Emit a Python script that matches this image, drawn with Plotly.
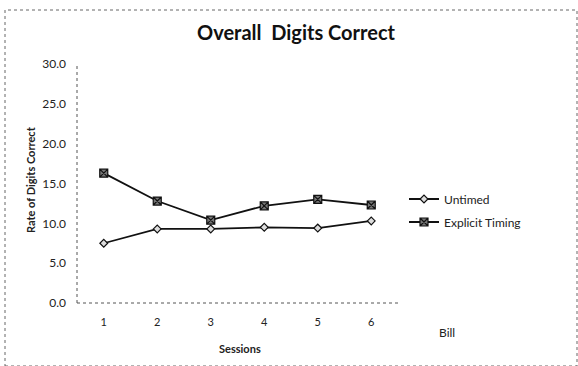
import plotly.graph_objects as go

sessions = ["1", "2", "3", "4", "5", "6"]
untimed = [7.5, 9.3, 9.3, 9.5, 9.4, 10.3]
explicit_timing = [16.3, 12.8, 10.4, 12.2, 13.0, 12.3]
y_ticks = [0, 5, 10, 15, 20, 25, 30]
y_tick_labels = ["0.0", "5.0", "10.0", "15.0", "20.0", "25.0", "30.0"]

FONT = "Lato, 'Open Sans', sans-serif"

fig = go.Figure()
fig.add_trace(go.Scatter(
    x=sessions, y=untimed, name="Untimed", mode="lines+markers", legend="legend",
    line=dict(color="#111111", width=1.8),
    marker=dict(symbol="diamond", size=6, color="#dddddd", line=dict(color="#111111", width=1.2)),
))
fig.add_trace(go.Scatter(
    x=sessions, y=explicit_timing, name="Explicit Timing", mode="lines+markers", legend="legend2",
    line=dict(color="#111111", width=1.8),
    marker=dict(symbol="square-x", size=8, color="#777777", line=dict(color="#111111", width=1.2)),
))

legend_common = dict(x=(404 - 77) / 321, xanchor="left", yanchor="middle",
                     font=dict(size=12, family=FONT, color="#222222"), bgcolor="rgba(0,0,0,0)",
                     itemwidth=30)

fig.update_layout(
    width=578, height=366,
    margin=dict(l=77, r=180, t=64, b=63, autoexpand=False),
    paper_bgcolor="white", plot_bgcolor="white",
    font=dict(family=FONT, color="#222222", size=11),
    title=dict(text="<b>Overall  Digits Correct</b>", x=296/578, xanchor="center",
               y=1 - 33/366, yanchor="middle", font=dict(size=20, family=FONT, color="#111111")),
    showlegend=True,
    legend=dict(y=(303 - 199) / 239, **legend_common),
    legend2=dict(y=(303 - 222) / 239, **legend_common),
    xaxis=dict(type="category", range=[-0.5, 5.5], showgrid=False, zeroline=False,
               showline=False, automargin=False,
               ticks="", tickfont=dict(size=11, family=FONT, color="#222222"), ticklabelstandoff=11),
    yaxis=dict(range=[0, 30], tickvals=y_ticks, ticktext=y_tick_labels, showgrid=False,
               zeroline=False, showline=False, automargin=False,
               ticks="", tickfont=dict(size=12, family=FONT, color="#222222"), ticklabelstandoff=10),
)

# dotted axis lines
fig.add_shape(type="line", xref="paper", yref="paper", x0=0, x1=1, y0=0, y1=0,
              line=dict(color="#555555", width=1, dash="dot"), layer="below")
fig.add_shape(type="line", xref="paper", yref="paper", x0=0, x1=0, y0=0, y1=1,
              line=dict(color="#555555", width=1, dash="dot"), layer="below")

fig.add_annotation(text="<b>Rate of Digits Correct</b>", x=(30 - 77) / 321, y=(303 - 180) / 239,
                   xref="paper", yref="paper", showarrow=False, textangle=-90,
                   xanchor="center", yanchor="middle",
                   font=dict(size=11, family=FONT, color="#222222"))
fig.add_annotation(text="<b>Sessions</b>", x=(240 - 77) / 321, y=(303 - 348) / 239,
                   xref="paper", yref="paper", showarrow=False, xanchor="center", yanchor="middle",
                   font=dict(size=11, family=FONT, color="#222222"))
fig.add_annotation(text="Bill", x=(447 - 77) / 321, y=(303 - 332) / 239,
                   xref="paper", yref="paper", showarrow=False, xanchor="center", yanchor="middle",
                   font=dict(size=12, family=FONT, color="#222222"))

fig.add_shape(type="rect", xref="paper", yref="paper",
              x0=(5 - 77) / 321, x1=(577 - 77) / 321, y0=(303 - 366) / 239, y1=(303 - 10) / 239,
              line=dict(color="#666666", width=1, dash="dot"))

fig.write_html("out.html", config={"displayModeBar": False},
               post_script="document.body.style.margin='0';")
